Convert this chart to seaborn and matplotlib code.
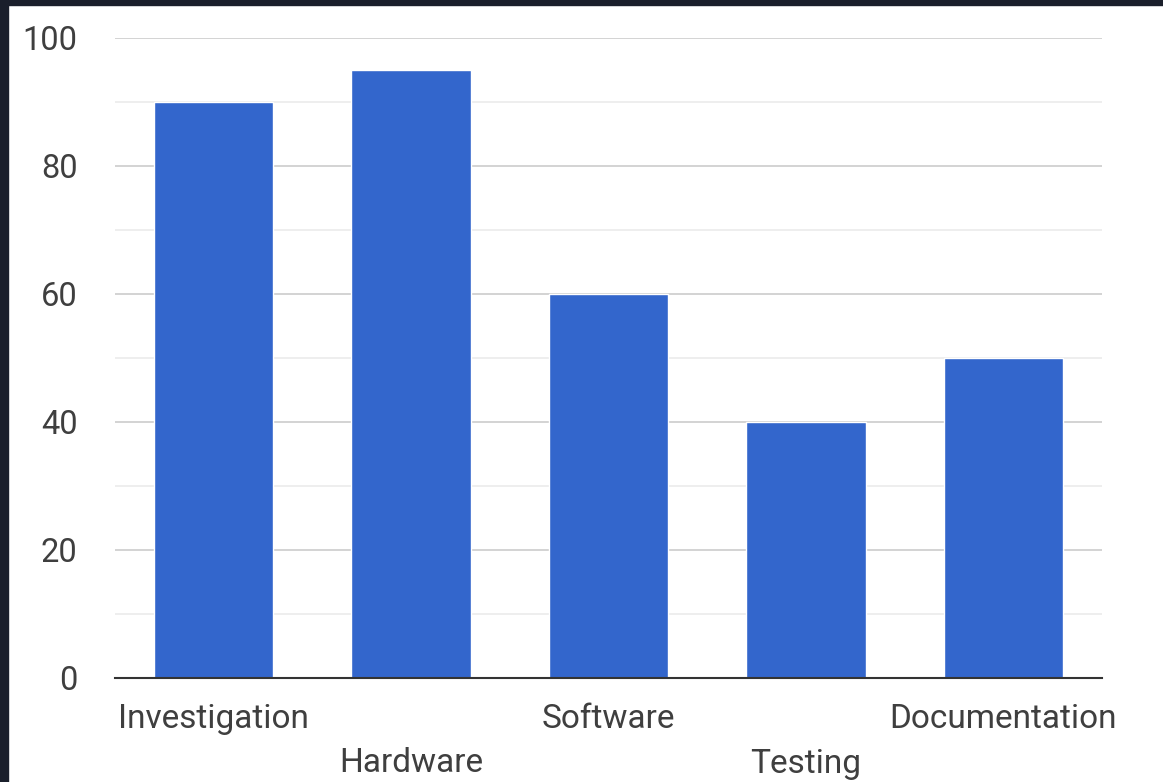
import matplotlib
matplotlib.use("Agg")
import matplotlib.pyplot as plt
from matplotlib.patches import Rectangle
from matplotlib.ticker import MultipleLocator
import seaborn as sns
import pandas as pd

categories = ["Investigation", "Hardware", "Software", "Testing", "Documentation"]
values = [90, 95, 60, 40, 50]

sns.set_theme(style="white")
plt.rcParams["font.family"] = ["Roboto", "DejaVu Sans"]

W, H = 1163, 782
fig = plt.figure(figsize=(W / 100, H / 100), dpi=100)
fig.patch.set_facecolor("white")

# dark frame strips along the left and top edges
frame = "#1a1f2b"
fig.add_artist(Rectangle((0, 0), 8 / W, 1, transform=fig.transFigure, color=frame, zorder=10))
fig.add_artist(Rectangle((0, 1 - 5 / H), 1, 5 / H, transform=fig.transFigure, color=frame, zorder=10))

ax = fig.add_axes([115 / W, 1 - 678 / H, (1102 - 115) / W, (678 - 38) / H])

df = pd.DataFrame({"category": categories, "value": values})
sns.barplot(data=df, x="category", y="value", color="#3366cc", saturation=1,
            width=0.605, ax=ax, zorder=3)

ax.set_xlim(-0.5, len(categories) - 0.5)
ax.set_ylim(0, 100)
ax.yaxis.set_major_locator(MultipleLocator(20))
ax.yaxis.set_minor_locator(MultipleLocator(10))
ax.grid(axis="y", which="major", color="#cccccc", linewidth=1.2, zorder=0)
ax.grid(axis="y", which="minor", color="#ebebeb", linewidth=1.2, zorder=0)
ax.set_axisbelow(True)

for s in ["left", "right", "top"]:
    ax.spines[s].set_visible(False)
ax.spines["bottom"].set_color("#333333")
ax.spines["bottom"].set_linewidth(1.5)
ax.spines["bottom"].set_zorder(5)

ax.set_xlabel("")
ax.set_ylabel("")

# alternate the category labels over two rows
labels = [c if i % 2 == 0 else "\n" + c for i, c in enumerate(categories)]
ax.set_xticks(range(len(categories)))
ax.set_xticklabels(labels, fontsize=24, color="#3f3f3f", linespacing=1.5, va="top")
ax.tick_params(axis="x", length=0, pad=18)
ax.tick_params(axis="y", which="both", length=0, pad=27, labelsize=23.5, labelcolor="#3f3f3f")

fig.savefig("out.png", dpi=100, facecolor="white")
